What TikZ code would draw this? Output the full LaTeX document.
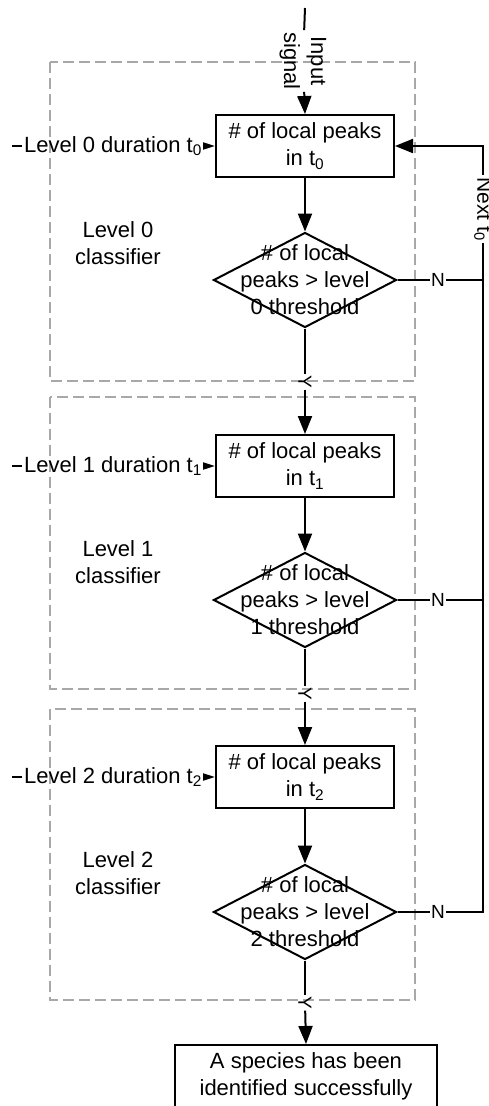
\documentclass[tikz,border=0pt]{standalone}
\usepackage{fontspec}
\setmainfont{Liberation Sans}
\usetikzlibrary{arrows.meta,shapes.geometric}
\definecolor{grpgray}{HTML}{A8A8A8}
\begin{document}
\begin{tikzpicture}[x=1pt,y=-1pt,
  every node/.style={font=\fontsize{22}{27}\selectfont},
  blk/.style={draw, line width=2pt, minimum width=178pt, minimum height=62pt, inner sep=0pt, align=center},
  dec/.style={draw, diamond, line width=2pt, minimum width=183pt, minimum height=95pt, inner sep=0pt},
  grp/.style={draw=grpgray, line width=1.5pt, dash pattern=on 11pt off 5pt},
  conn/.style={line width=2pt},
  arr/.style={line width=2pt, -{Triangle[length=18pt,width=14pt]}},
  sarr/.style={line width=2pt, -{Triangle[length=12pt,width=7pt]}},
  yn/.style={font=\fontsize{19}{22}\selectfont, inner sep=1pt},
  lbl/.style={align=center, inner sep=2pt},
]
\useasboundingbox (0,0) rectangle (489,1106);

% group frames
\draw[grp] (50,62) rectangle (415,381);
\draw[grp] (50,397) rectangle (415,689);
\draw[grp] (50,709) rectangle (415,1000);

% level 0
\node[blk] (b0) at (305,146) {\# of local peaks\\in t\textsubscript{0}};
\node[dec] (d0) at (305,280) {};
\node[lbl] (d0t) at (d0.center) {\# of local\\peaks > level\\0 threshold};
\node[lbl] (c0) at (118,243) {Level 0\\classifier};
\node[lbl] (l0) at (113,146) {Level 0 duration t\textsubscript{0}};
\coordinate (l0s) at (12,146);

% level 1
\node[blk] (b1) at (305,466) {\# of local peaks\\in t\textsubscript{1}};
\node[dec] (d1) at (305,600) {};
\node[lbl] (d1t) at (d1.center) {\# of local\\peaks > level\\1 threshold};
\node[lbl] (c1) at (118,562) {Level 1\\classifier};
\node[lbl] (l1) at (113,466) {Level 1 duration t\textsubscript{1}};
\coordinate (l1s) at (12,466);

% level 2
\node[blk] (b2) at (305,777) {\# of local peaks\\in t\textsubscript{2}};
\node[dec] (d2) at (305,912) {};
\node[lbl] (d2t) at (d2.center) {\# of local\\peaks > level\\2 threshold};
\node[lbl] (c2) at (118,873) {Level 2\\classifier};
\node[lbl] (l2) at (113,777) {Level 2 duration t\textsubscript{2}};
\coordinate (l2s) at (12,777);

% final
\node[blk, minimum width=262pt, minimum height=63pt] (fin) at (306,1076.5) {A species has been\\identified successfully};

% input
\coordinate (inTop) at (305,8);
\node[lbl, rotate=-90] (inl) at (303,61) {Input\\signal};
\draw[conn] (inTop) -- (inl);
\draw[arr] (inl) -- (b0.north);

% duration inputs
\draw[conn] (l0s) -- (l0.west);
\draw[sarr] (l0.east) -- (b0.west);
\draw[conn] (l1s) -- (l1.west);
\draw[sarr] (l1.east) -- (b1.west);
\draw[conn] (l2s) -- (l2.west);
\draw[sarr] (l2.east) -- (b2.west);

% box to decision
\draw[arr] (b0.south) -- (d0.north);
\draw[arr] (b1.south) -- (d1.north);
\draw[arr] (b2.south) -- (d2.north);

% yes branches
\node[yn, rotate=-90] (y0) at (305,382) {Y};
\node[yn, rotate=-90] (y1) at (305,694) {Y};
\node[yn, rotate=-90] (y2) at (305,1003) {Y};
\draw[conn] (d0.south) -- (y0);
\draw[arr] (y0) -- (b1.north);
\draw[conn] (d1.south) -- (y1);
\draw[arr] (y1) -- (b2.north);
\draw[conn] (d2.south) -- (y2);
\draw[arr] (y2) -- (fin.north);

% no branches and feedback
\coordinate (rtop) at (483,146);
\coordinate (rbot) at (483,912);
\node[yn] (n0) at (438,280) {N};
\node[yn] (n1) at (438,600) {N};
\node[yn] (n2) at (438,912) {N};
\node[lbl, rotate=-90, font=\fontsize{21}{25}\selectfont] (nxt) at (483,209) {Next t\textsubscript{0}};
\draw[conn] (d0.east) -- (n0);
\draw[conn] (n0) -- (n0 -| rtop);
\draw[conn] (d1.east) -- (n1);
\draw[conn] (n1) -- (n1 -| rtop);
\draw[conn] (d2.east) -- (n2);
\draw[conn] (n2) -- (rbot) -- (nxt);
\draw[arr] (nxt) -- (rtop) -- (b0.east);
\end{tikzpicture}
\end{document}
